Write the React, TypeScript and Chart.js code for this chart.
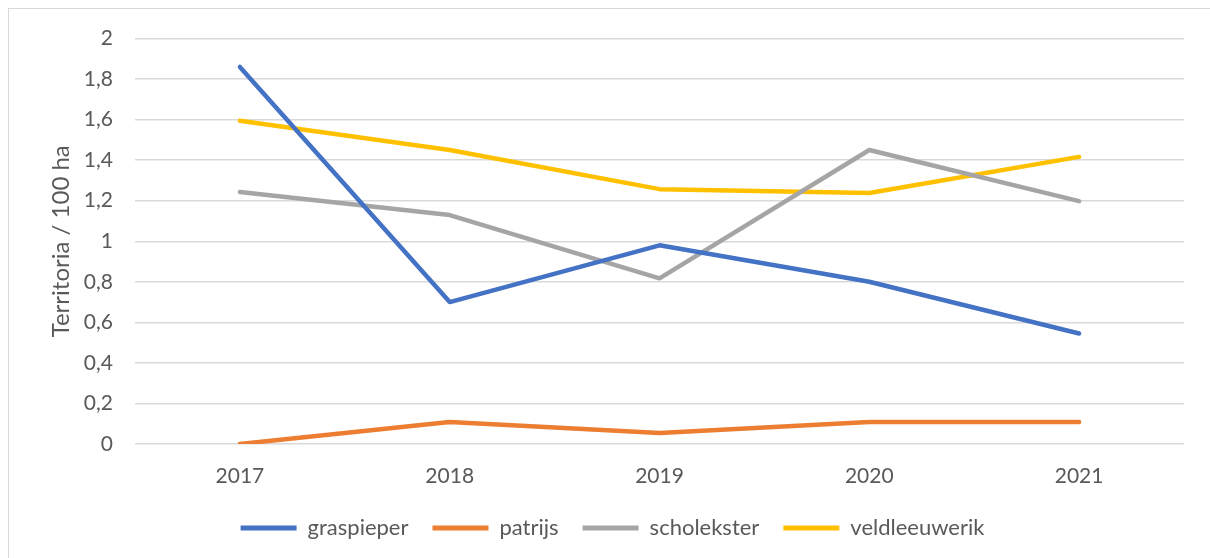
import React, { useEffect, useRef } from "react";
import { Chart, registerables } from "chart.js";

Chart.register(...registerables);

const years = ["2017", "2018", "2019", "2020", "2021"];
const graspieper = [1.86, 0.7, 0.98, 0.8, 0.545];
const patrijs = [0, 0.109, 0.054, 0.109, 0.109];
const scholekster = [1.243, 1.129, 0.817, 1.45, 1.198];
const veldleeuwerik = [1.594, 1.45, 1.257, 1.238, 1.416];

const FONT = "Lato, 'Noto Sans', sans-serif";
const TEXT = "#595959";

export default function App() {
  const ref = useRef<HTMLCanvasElement | null>(null);
  useEffect(() => {
    document.documentElement.style.overflow = "hidden";
    document.body.style.overflow = "hidden";
    if (!ref.current) return;
    const mk = (label: string, data: number[], color: string) => ({
      label,
      data,
      borderColor: color,
      backgroundColor: color,
      borderWidth: 4.5,
      borderCapStyle: "round" as const,
      borderJoinStyle: "round" as const,
      pointRadius: 0,
      pointHoverRadius: 0,
      tension: 0,
      fill: false,
    });
    const chart = new Chart(ref.current, {
      type: "line",
      data: {
        labels: years,
        datasets: [
          mk("graspieper", graspieper, "#4472C4"),
          mk("patrijs", patrijs, "#ED7D31"),
          mk("scholekster", scholekster, "#A5A5A5"),
          mk("veldleeuwerik", veldleeuwerik, "#FFC000"),
        ],
      },
      options: {
        animation: false,
        responsive: false,
        maintainAspectRatio: false,
        layout: { padding: { left: 32, right: 25, top: 29.5, bottom: 8 } },
        plugins: {
          tooltip: { enabled: false },
          legend: {
            position: "bottom",
            labels: {
              font: { family: FONT, size: 22 },
              color: TEXT,
              boxWidth: 56,
              boxHeight: 5,
              useBorderRadius: true,
              borderRadius: 2.5,
              padding: 24,
              generateLabels: (c: any) =>
                c.data.datasets.map((d: any, i: number) => ({
                  text: d.label,
                  fillStyle: d.borderColor,
                  strokeStyle: d.borderColor,
                  lineWidth: 0,
                  fontColor: TEXT,
                  datasetIndex: i,
                  hidden: false,
                })),
            },
          },
        },
        scales: {
          x: {
            offset: true,
            grid: { display: false, drawTicks: false },
            border: { display: false },
            ticks: { font: { family: FONT, size: 21 }, color: TEXT, padding: 20, maxRotation: 0 },
            afterFit: (s: any) => {
              s.height = 49;
            },
          },
          y: {
            min: 0,
            max: 2,
            ticks: {
              stepSize: 0.2,
              font: { family: FONT, size: 21 },
              color: TEXT,
              padding: 22,
              callback: (v: any) => {
                const n = Math.round(Number(v) * 10) / 10;
                return String(n).replace(".", ",");
              },
            },
            grid: { color: "#D9D9D9", lineWidth: 1.5, drawTicks: false },
            border: { display: false },
            title: {
              display: true,
              text: "Territoria / 100 ha",
              font: { family: FONT, size: 24 },
              color: TEXT,
              padding: { top: 6, bottom: 0 },
            },
            afterFit: (s: any) => {
              s.width = 94;
              s.paddingTop = 0;
              s.paddingBottom = 0;
            },
          },
        },
      },
    });
    return () => chart.destroy();
  }, []);
  return (
    <div
      style={{
        position: "absolute",
        left: 8,
        top: 8,
        boxSizing: "border-box",
        width: 1210,
        height: 560,
        borderTop: "1.5px solid #D9D9D9",
        borderLeft: "1.5px solid #D9D9D9",
        background: "#fff",
        overflow: "hidden",
      }}
    >
      <canvas ref={ref} width={1200} height={548} style={{ display: "block" }} />
    </div>
  );
}
